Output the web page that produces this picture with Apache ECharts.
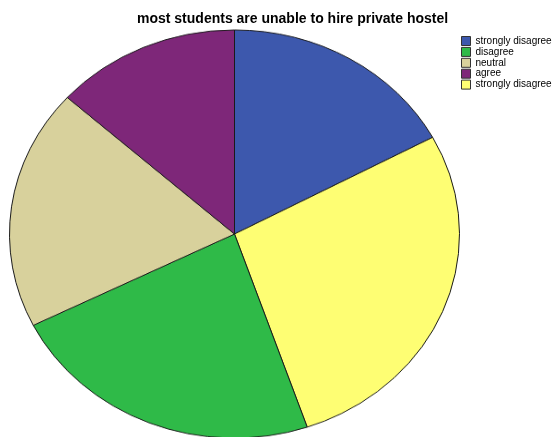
<!DOCTYPE html>
<html>
<head>
<meta charset="utf-8">
<script src="https://cdn.jsdelivr.net/npm/echarts@6/dist/echarts.min.js"></script>
<style>
html,body{margin:0;padding:0;background:#fff;overflow:hidden;}
#wrap{position:relative;width:555px;height:437px;overflow:hidden;}
#pie{position:absolute;left:0;top:0;width:555px;height:482px;transform:scale(1,0.907);transform-origin:0 0;}
#top{position:absolute;left:0;top:0;width:555px;height:437px;}
</style>
</head>
<body>
<div id="wrap"><div id="pie"></div><div id="top"></div></div>
<script>
// Legend order
const categories = ['strongly disagree', 'disagree', 'neutral', 'agree', 'strongly disagree '];
const counts = [18, 24, 20, 14, 29];
const colors = ['#3d58ad', '#2fba48', '#d8d19c', '#7e2779', '#fefe73'];
// Clockwise order of slices from 12 o'clock
const pieOrder = [0, 4, 1, 2, 3];
const titleText = 'most students are unable to hire private hostel';

const pieData = pieOrder.map(i => ({
  name: categories[i], value: counts[i], itemStyle: { color: colors[i] }
}));

const pieChart = echarts.init(document.getElementById('pie'), null, { renderer: 'canvas' });
pieChart.setOption({
  animation: false,
  series: [{
    type: 'pie',
    center: [234.5, 258],
    radius: [0, 225],
    startAngle: 90,
    clockwise: true,
    label: { show: false },
    labelLine: { show: false },
    emphasis: { disabled: true },
    itemStyle: { borderColor: '#1a1a1a', borderWidth: 1 },
    data: pieData
  }]
});

const topChart = echarts.init(document.getElementById('top'), null, { renderer: 'canvas' });
topChart.setOption({
  animation: false,
  title: {
    text: titleText,
    left: 137, top: 12, padding: 0,
    textStyle: { fontFamily: 'Liberation Sans, Arial, sans-serif', fontSize: 14, fontWeight: 'bold', color: '#000' }
  },
  legend: {
    orient: 'vertical',
    left: 461, top: 36, padding: 0,
    itemWidth: 9, itemHeight: 9, itemGap: 0.9,
    icon: 'rect',
    data: categories,
    formatter: n => n.trim(),
    itemStyle: { borderColor: '#333', borderWidth: 1 },
    textStyle: { fontFamily: 'Liberation Sans, Arial, sans-serif', fontSize: 10, lineHeight: 9, height: 9, color: '#000' },
    selectedMode: false
  },
  series: [{
    type: 'pie',
    center: [-100, -100],
    radius: [0, 1],
    silent: true,
    label: { show: false },
    data: categories.map((c, i) => ({ name: c, value: counts[i], itemStyle: { color: colors[i] } }))
  }]
});
</script>
</body>
</html>
